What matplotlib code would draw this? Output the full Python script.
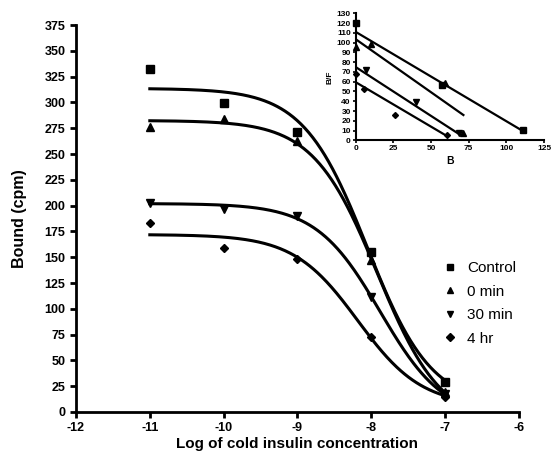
import numpy as np
import matplotlib
matplotlib.use("Agg")
import matplotlib.pyplot as plt

plt.rcParams['font.family'] = ['Liberation Sans', 'DejaVu Sans']
plt.rcParams['font.weight'] = 'bold'
plt.rcParams['axes.unicode_minus'] = False

# ---- main competition-binding data ----
log_conc = [-11, -10, -9, -8, -7]
series_names = ["Control", "0 min", "30 min", "4 hr"]
control = [332, 299, 271, 155, 29]
min0 = [276, 284, 263, 147, 19]
min30 = [203, 197, 190, 111, 17]
hr4 = [183, 159, 148, 73, 15]
markers = ['s', '^', 'v', 'D']

# ---- Scatchard inset data (B, B/F) ----
sc_control_B = [0, 57, 111]
sc_control_BF = [120, 56.6, 10.5]
sc_min0_B = [0, 10, 59.3, 71.4]
sc_min0_BF = [96, 98.3, 58.3, 7.8]
sc_min30_B = [6.8, 40, 68.8]
sc_min30_BF = [72, 39.5, 7.8]
sc_hr4_B = [0, 5.5, 26, 60.8]
sc_hr4_BF = [68, 53, 26, 5.4]
# regression lines: (B/F at B=0, end B, B/F at end)
line_start_BF = [111, 103.5, 75, 59.5]
line_end_B = [111, 71.5, 69, 61]
line_end_BF = [9.5, 25.9, 6, 4]


def fit_one_site(x, y):
    """One-site competition fit (Hill slope 1): top, bottom, logEC50."""
    x = np.asarray(x, float)
    y = np.asarray(y, float)
    best = None
    for c in np.linspace(-10.0, -6.5, 701):
        s = 1.0 / (1.0 + 10 ** (x - c))
        A = np.column_stack([np.ones_like(s), s])
        coef, *_ = np.linalg.lstsq(A, y, rcond=None)
        r = np.sum((A @ coef - y) ** 2)
        if best is None or r < best[0]:
            best = (r, c, coef)
    _, c, coef = best
    return lambda xx: coef[0] + coef[1] / (1.0 + 10 ** (xx - c))


fig = plt.figure(figsize=(5.53, 4.59), dpi=100)
ax = fig.add_axes([0.1374, 0.1024, 0.8011, 0.8431])

xs = np.linspace(-11, -7, 300)
for vals, m, name in zip([control, min0, min30, hr4], markers, series_names):
    f = fit_one_site(log_conc, vals)
    ax.plot(xs, f(xs), color='black', lw=2.2)
    ax.plot(log_conc, vals, linestyle='none', marker=m, color='black',
            markersize=6 if m != 'D' else 4.5, label=name, clip_on=False)

ax.set_xlim(-12, -6)
ax.set_ylim(0, 375)
ax.set_xticks(np.arange(-12, -5, 1))
ax.set_yticks(np.arange(0, 376, 25))
for s in ['top', 'right']:
    ax.spines[s].set_visible(False)
for s in ['left', 'bottom']:
    ax.spines[s].set_linewidth(2)
ax.tick_params(width=2, length=4, labelsize=9, direction='out')
for lab in ax.get_xticklabels() + ax.get_yticklabels():
    lab.set_fontweight('bold')
ax.set_xlabel("Log of cold insulin concentration", fontsize=11, fontweight='bold', labelpad=2)
ax.set_ylabel("Bound (cpm)", fontsize=11.5, fontweight='bold', labelpad=13)

leg = ax.legend(loc='upper left', bbox_to_anchor=(0.80, 0.425), frameon=False,
                handlelength=0.8, handletextpad=0.7, labelspacing=0.62, markerscale=0.8,
                prop={'weight': 'normal', 'size': 11})

# ---- inset ----
ins = fig.add_axes([0.6432, 0.6943, 0.3405, 0.2767])
for y0, xe, ye in zip(line_start_BF, line_end_B, line_end_BF):
    ins.plot([0, xe], [y0, ye], color='black', lw=1.6)
for bx, by, m in zip([sc_control_B, sc_min0_B, sc_min30_B, sc_hr4_B],
                     [sc_control_BF, sc_min0_BF, sc_min30_BF, sc_hr4_BF], markers):
    ins.plot(bx, by, linestyle='none', marker=m, color='black',
             markersize=4 if m != 'D' else 3, clip_on=False)
ins.set_xlim(0, 125)
ins.set_ylim(0, 130)
ins.set_xticks(np.arange(0, 126, 25))
ins.set_yticks(np.arange(0, 131, 10))
for s in ['top', 'right']:
    ins.spines[s].set_visible(False)
for s in ['left', 'bottom']:
    ins.spines[s].set_linewidth(1.5)
ins.tick_params(width=1.2, length=2.5, labelsize=6, pad=1)
for lab in ins.get_xticklabels() + ins.get_yticklabels():
    lab.set_fontweight('bold')
ins.set_xlabel("B", fontsize=7.5, fontweight='bold', labelpad=3)
ins.set_ylabel("B/F", fontsize=6, fontweight='bold', labelpad=2)
ins.patch.set_alpha(0)

fig.savefig("out.png", dpi=100)
